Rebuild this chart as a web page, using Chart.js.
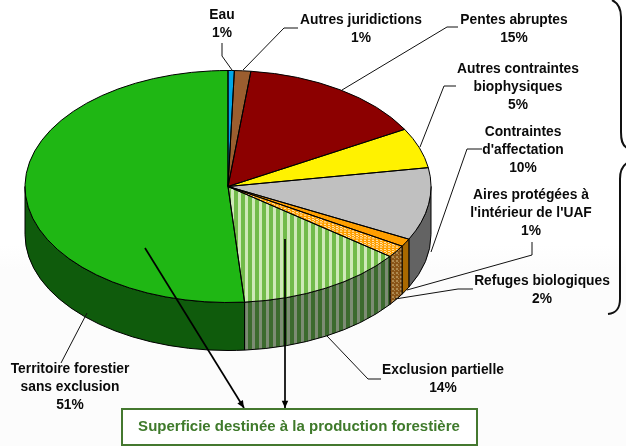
<!DOCTYPE html>
<html>
<head>
<meta charset="utf-8">
<style>
  html, body { margin: 0; padding: 0; background: #fff; }
  canvas { display: block; }
</style>
<script src="https://cdn.jsdelivr.net/npm/chart.js@4"></script>
</head>
<body>
<canvas id="pie" width="626" height="446"></canvas>
<script>
// data
const categories = ['Eau', 'Autres juridictions', 'Pentes abruptes', 'Autres contraintes biophysiques',
    "Contraintes d'affectation", "Aires protégées à l'intérieur de l'UAF", 'Refuges biologiques',
    'Exclusion partielle', 'Territoire forestier sans exclusion'];
const sliceValues = [0.5, 1.3, 15, 5.6, 10.1, 1.1, 1.7, 13.4, 51.3];
const percentLabels = ['1%', '1%', '15%', '5%', '10%', '1%', '2%', '14%', '51%'];
const boxTitle = 'Superficie destinée à la production forestière';

// layout of the callouts, same order as categories
const labelLines = [['Eau'], ['Autres juridictions'], ['Pentes abruptes'], ['Autres contraintes', 'biophysiques'],
    ['Contraintes', "d'affectation"], ['Aires protégées à', "l'intérieur de l'UAF"], ['Refuges biologiques'],
    ['Exclusion partielle'], ['Territoire forestier', 'sans exclusion']];
const labelX = [222, 361, 514, 518, 523, 531, 542, 443, 70];
const labelY = [15, 20, 20, 69, 132, 195, 281, 370, 369];
const leaders = [
    [[222, 43], [222, 56], [232, 70]],
    [[298, 28], [284, 28], [243, 70]],
    [[458, 27], [447, 27], [342, 90]],
    [[456, 86], [444, 86], [420, 147]],
    [[482, 149], [467, 149], [431, 252]],
    [[532, 242], [532, 255], [407, 290]],
    [[473, 289], [458, 289], [395, 299]],
    [[381, 379], [368, 379], [327, 336]],
    [[61, 363], [87, 313]]
];

const flatY = 186.5;      // where the squashed pie centre sits
const flatRy = 116;
const depth = 48;

function stripes(a, b) {
    const c = document.createElement('canvas');
    c.width = 7; c.height = 4;
    const g = c.getContext('2d');
    g.fillStyle = a; g.fillRect(0, 0, 7, 4);
    g.fillStyle = b; g.fillRect(0, 0, 3, 4);
    return g.createPattern(c, 'repeat');
}

function dots(a, b) {
    const c = document.createElement('canvas');
    c.width = 4; c.height = 4;
    const g = c.getContext('2d');
    g.fillStyle = a; g.fillRect(0, 0, 4, 4);
    g.fillStyle = b; g.fillRect(0, 0, 2, 2); g.fillRect(2, 2, 1, 1);
    return g.createPattern(c, 'repeat');
}

const topColors = ['#00a6e8', '#9b5e2f', '#8c0000', '#fff200', '#c0c0c0', '#ff9f00',
    dots('#ff9f00', '#ffe0a8'), stripes('#72bb4a', '#cfe9b8'), '#1fb714'];
const wallColors = ['#00597d', '#53321a', '#4b0000', '#887f00', '#636363', '#a96900',
    dots('#8a5518', '#b08a50'), stripes('#3c6a2e', '#7d8c74'), '#0f5b0c'];

function polyline(ctx, pts) {
    ctx.beginPath();
    pts.forEach((p, i) => i ? ctx.lineTo(p[0], p[1]) : ctx.moveTo(p[0], p[1]));
    ctx.stroke();
}

function arrow(ctx, x0, y0, x1, y1) {
    ctx.lineWidth = 1.7;
    polyline(ctx, [[x0, y0], [x1, y1]]);
    const a = Math.atan2(y1 - y0, x1 - x0);
    ctx.beginPath();
    ctx.moveTo(x1, y1);
    ctx.lineTo(x1 - 8 * Math.cos(a - 0.42), y1 - 8 * Math.sin(a - 0.42));
    ctx.lineTo(x1 - 8 * Math.cos(a + 0.42), y1 - 8 * Math.sin(a + 0.42));
    ctx.closePath();
    ctx.fill();
}

// squashes the library's pie into an ellipse and adds the side wall
const tiltPlugin = {
    id: 'tilt',
    beforeDatasetsDraw(chart) {
        const ctx = chart.ctx;
        const arcs = chart.getDatasetMeta(0).data;
        const cx = arcs[0].x, R = arcs[0].outerRadius;

        // faint tint on the lower part of the slide
        const bg = ctx.createLinearGradient(0, 245, 0, 270);
        bg.addColorStop(0, '#ffffff');
        bg.addColorStop(1, '#fcfcfc');
        ctx.fillStyle = bg;
        ctx.fillRect(0, 245, 626, 201);

        ctx.strokeStyle = '#000';
        ctx.lineWidth = 1;
        arcs.forEach((arc, i) => {
            const a0 = Math.max(arc.startAngle, 0);
            const a1 = Math.min(arc.endAngle, Math.PI);
            if (a1 <= a0) return;
            ctx.beginPath();
            ctx.ellipse(cx, flatY, R, flatRy, 0, a0, a1);
            ctx.ellipse(cx, flatY + depth, R, flatRy, 0, a1, a0, true);
            ctx.closePath();
            ctx.fillStyle = wallColors[i];
            ctx.fill();
            ctx.stroke();
        });

        ctx.save();
        ctx.translate(cx, flatY);
        ctx.scale(1, flatRy / R);
        ctx.translate(-cx, -arcs[0].y);
    },
    afterDatasetsDraw(chart) {
        const ctx = chart.ctx;
        ctx.restore();
        const arcs = chart.getDatasetMeta(0).data;
        const cx = arcs[0].x, R = arcs[0].outerRadius;

        // outlines in page space so they keep an even width
        ctx.strokeStyle = '#000';
        ctx.lineWidth = 1;
        arcs.forEach(arc => {
            ctx.beginPath();
            ctx.moveTo(cx, flatY);
            ctx.ellipse(cx, flatY, R, flatRy, 0, arc.startAngle, arc.endAngle);
            ctx.closePath();
            ctx.stroke();
        });

        // leader lines
        ctx.lineWidth = 1;
        ctx.strokeStyle = '#111';
        leaders.forEach(l => polyline(ctx, l));

        // callout text
        ctx.fillStyle = '#0a0a0a';
        ctx.font = 'bold 13.8px "Liberation Sans", Arial, sans-serif';
        ctx.textAlign = 'center';
        ctx.textBaseline = 'middle';
        labelLines.forEach((lines, i) => {
            lines.concat(percentLabels[i]).forEach((t, j) => {
                ctx.fillText(t, labelX[i], labelY[i] + j * 18);
            });
        });

        // braces on the right
        ctx.lineWidth = 2;
        ctx.strokeStyle = '#111';
        ctx.beginPath();
        ctx.moveTo(612, 0);
        ctx.bezierCurveTo(618, 3, 621, 8, 621, 17);
        ctx.lineTo(621, 132);
        ctx.bezierCurveTo(621, 140, 622, 145, 627, 148);
        ctx.moveTo(627, 163);
        ctx.bezierCurveTo(622, 166, 620, 171, 620, 179);
        ctx.lineTo(620, 299);
        ctx.bezierCurveTo(620, 309, 616, 313, 608, 314);
        ctx.stroke();

        // arrows towards the box
        ctx.fillStyle = '#000';
        ctx.strokeStyle = '#000';
        arrow(ctx, 145, 248, 244, 408);
        arrow(ctx, 285, 239, 285, 408);

        // box
        ctx.fillStyle = '#fff';
        ctx.fillRect(122, 408, 355, 37);
        ctx.strokeStyle = '#44782f';
        ctx.lineWidth = 2;
        ctx.strokeRect(122, 409, 355, 36);
        ctx.fillStyle = '#3f7a2b';
        ctx.font = 'bold 15px "Liberation Sans", Arial, sans-serif';
        ctx.fillText(boxTitle, 299, 427);
    }
};

new Chart(document.querySelector('#pie').getContext('2d'), {
    type: 'pie',
    data: {
        labels: categories,
        datasets: [
            {
                data: sliceValues,
                backgroundColor: topColors,
                borderWidth: 0
            }
        ]
    },
    options: {
        responsive: false,
        animation: false,
        layout: { padding: { left: 25, right: 195, top: 20, bottom: 20 } },
        plugins: {
            legend: { display: false },
            tooltip: { enabled: false }
        }
    },
    plugins: [tiltPlugin]
});
</script>
</body>
</html>
